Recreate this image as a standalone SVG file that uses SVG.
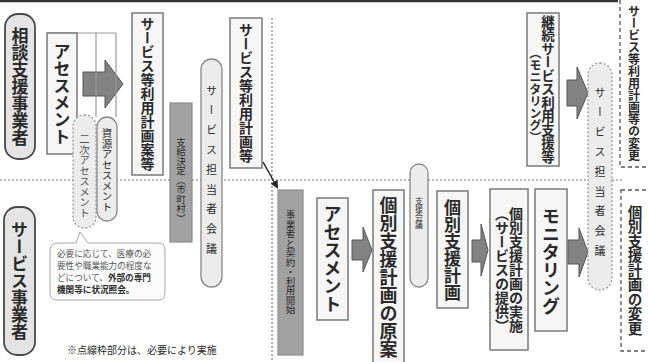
<svg xmlns="http://www.w3.org/2000/svg" width="648" height="362" viewBox="0 0 648 362">
<style>
text{font-family:"Noto Sans CJK JP","Noto Sans",sans-serif;fill:#2a2a2a}
.v{writing-mode:vertical-rl;text-anchor:middle}
.b{font-weight:bold}
.box{fill:#f6f6f6;stroke:#7a7a7a;stroke-width:1.5}
.cap{fill:#e4e4e4;stroke:#4a4a4a;stroke-width:1.8}
.mt{fill:#ececec;stroke:#888;stroke-width:1.3}
.dcap{fill:#ececec;stroke:#999;stroke-width:1.3;stroke-dasharray:2 2}
.bar{fill:#a2a2a2;stroke:#8a8a8a;stroke-width:1.2}
.arr{fill:#828282;stroke:#555;stroke-width:1}
.dash{fill:none;stroke:#555;stroke-width:1.3;stroke-dasharray:4 3}
.dot{fill:none;stroke:#777;stroke-width:1.2;stroke-dasharray:2 2}
.sm{fill:#555}
</style>
<defs>
<marker id="ah" markerWidth="8" markerHeight="8" refX="6" refY="4" orient="auto" markerUnits="userSpaceOnUse">
<path d="M0,0 L8,4 L0,8 z" fill="#222"/>
</marker>
</defs>

<g id="connectors">
<line x1="0" y1="1" x2="618" y2="1" stroke="#333" stroke-width="2.5"/>
<line x1="0" y1="180" x2="622" y2="180" class="dot"/>
<line x1="272" y1="18" x2="272" y2="362" class="dot"/>
<line x1="263" y1="162" x2="277" y2="187" stroke="#222" stroke-width="1.5" marker-end="url(#ah)"/>
<path class="arr" d="M83,72 H105 V60 L123,84 L105,108 V96 H83 Z"/>
<path class="arr" d="M352,240 H363 V227 L372,250 L363,272 V260 H352 Z"/>
<path class="arr" d="M472,240 H481 V224 L488,250 L481,276 V262 H472 Z"/>
<path class="arr" d="M568,240 H579 V228 L588,252 L579,277 V264 H568 Z"/>
<path class="arr" d="M567,80 H577 V67 L588,93 L577,119 V106 H567 Z"/>
</g>

<g id="soudan">
<rect class="cap" x="5" y="14" width="30" height="145" rx="13"/>
<text class="v b" x="20" y="87" font-size="17">相談支援事業者</text>
</g>

<g id="jigyousha">
<rect class="cap" x="4" y="207" width="31" height="148" rx="13"/>
<text class="v b" x="19.5" y="281" font-size="17">サービス事業者</text>
</g>

<g id="assessment1">
<path d="M47,33 H116 M76,33 V115 M96,33 V117 M116,33 V117" fill="none" stroke="#999" stroke-width="1.2"/>
<rect class="box" x="47" y="33" width="30" height="121"/>
<text class="v b" x="62" y="94" font-size="17">アセスメント</text>
</g>

<g id="niji">
<rect class="dcap" x="73" y="115" width="23" height="113" rx="11"/>
<text class="v sm" x="84.5" y="176" font-size="10.5">二次アセスメント</text>
</g>

<g id="shigen">
<rect class="mt" x="97" y="117" width="20" height="104" rx="10"/>
<text class="v" x="107" y="170" font-size="10.5">資源アセスメント</text>
</g>

<g id="bubble">
<path d="M58,243 H76 L80,232 L88,243 H158 Q165,243 165,250 V293 Q165,300 158,300 H57 Q50,300 50,293 V250 Q50,243 58,243 Z" fill="#fcfcfc" stroke="#aaa" stroke-width="1"/>
<text x="57" y="257" font-size="8.6" class="sm">必要に応じて、医療の必</text>
<text x="57" y="269" font-size="8.6" class="sm">要性や職業能力の程度な</text>
<text x="57" y="281" font-size="8.6" class="sm">どについて、<tspan font-weight="bold" fill="#333">外部の専門</tspan></text>
<text x="57" y="293" font-size="8.6" font-weight="bold" fill="#333">機関等に状況照会。</text>
</g>

<g id="note">
<text x="67" y="354" font-size="10" fill="#666">※点線枠部分は、必要により実施</text>
</g>

<g id="keikakuan">
<rect class="box" x="132" y="13" width="31" height="162"/>
<text class="v b" x="147.5" y="94" font-size="14">サービス等利用計画案等</text>
</g>

<g id="shikyu">
<rect class="bar" x="170" y="103" width="22" height="139"/>
<text class="v" x="181" y="180" font-size="9.5" fill="#444">支給決定（市町村）</text>
</g>

<g id="tantou1">
<rect class="mt" x="201" y="59" width="21" height="228" rx="10.5"/>
<text class="v" x="211.5" y="174" font-size="11" letter-spacing="8.8" fill="#444">サービス担当者会議</text>
</g>

<g id="keikaku">
<rect class="box" x="230" y="18" width="32" height="150"/>
<text class="v b" x="246" y="93" font-size="14">サービス等利用計画等</text>
</g>

<g id="keiyaku">
<rect class="bar" x="278" y="190" width="25" height="165"/>
<text class="v" x="290.5" y="262" font-size="9.5" fill="#555">事業者と契約・利用開始</text>
</g>

<g id="assessment2">
<rect class="box" x="317" y="198" width="31" height="122"/>
<text class="v b" x="332.5" y="259" font-size="18">アセスメント</text>
</g>

<g id="gentan">
<rect class="box" x="373" y="190" width="31" height="180"/>
<text class="v b" x="388.5" y="277" font-size="18">個別支援計画の原案</text>
</g>

<g id="shienkaigi">
<rect class="mt" x="410" y="164" width="18" height="123" rx="9"/>
<text class="v" x="419" y="213" font-size="8" fill="#444">支援会議</text>
</g>

<g id="kobetsu">
<rect class="box" x="437" y="191" width="31" height="117"/>
<text class="v b" x="452.5" y="250" font-size="17">個別支援計画</text>
</g>

<g id="jisshi">
<rect class="box" x="490" y="189" width="38" height="161"/>
<text class="v b" x="516" y="270" font-size="14">個別支援計画の実施</text>
<text class="v b" x="502" y="270" font-size="14">（サービスの提供）</text>
</g>

<g id="monitoring">
<rect class="box" x="535" y="189" width="32" height="142"/>
<text class="v b" x="551" y="261" font-size="18">モニタリング</text>
</g>

<g id="tantou2">
<rect class="dcap" x="588" y="63" width="24" height="227" rx="12"/>
<text class="v" x="600" y="176" font-size="11" letter-spacing="8.8" fill="#555">サービス担当者会議</text>
</g>

<g id="keizoku">
<rect class="box" x="527" y="13" width="32" height="153"/>
<text class="v b" x="548" y="89" font-size="13.5">継続サービス利用支援等</text>
<text class="v b" x="535.5" y="95" font-size="12">（モニタリング）</text>
</g>

<g id="henkou1">
<rect class="dash" x="620" y="-3" width="40" height="170"/>
<text class="v b" x="634" y="83" font-size="12">サービス等利用計画等の変更</text>
</g>

<g id="henkou2">
<rect class="dash" x="621" y="190" width="40" height="161"/>
<text class="v b" x="635" y="270" font-size="14.5">個別支援計画の変更</text>
</g>
</svg>
